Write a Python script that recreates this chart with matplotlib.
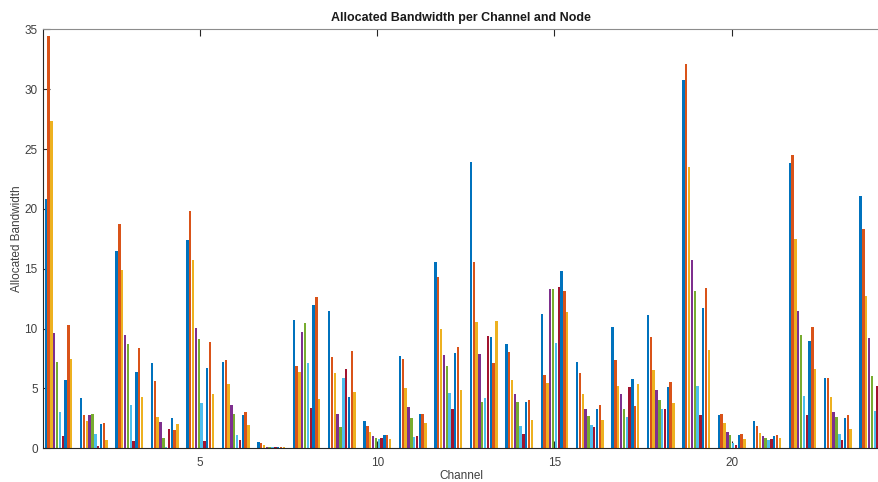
import matplotlib
matplotlib.use("Agg")
import matplotlib.pyplot as plt
import numpy as np

plt.rcParams['font.family'] = ['Liberation Sans', 'DejaVu Sans']

channels = list(range(1, 25))
# rows = channels 1..24, columns = node 1..10
ch01 = [20.8, 34.4, 27.3, 9.6, 7.2, 3.0, 1.0, 5.7, 10.3, 7.5]
ch02 = [4.2, 2.8, 2.25, 2.8, 2.85, 1.2, 0.2, 2.05, 2.15, 0.7]
ch03 = [16.5, 18.7, 14.9, 9.5, 8.7, 3.6, 0.65, 6.4, 8.4, 4.3]
ch04 = [7.1, 5.65, 2.65, 2.2, 0.85, 0.15, 1.65, 2.55, 1.55, 2.0]
ch05 = [17.4, 19.8, 15.75, 10.05, 9.15, 3.8, 0.65, 6.7, 8.85, 4.5]
ch06 = [7.2, 7.4, 5.35, 3.6, 2.9, 1.15, 0.7, 2.75, 3.05, 1.95]
ch07 = [0.5, 0.45, 0.3, 0.15, 0.1, 0.1, 0.1, 0.15, 0.15, 0.12]
ch08 = [10.7, 6.85, 6.4, 9.7, 10.5, 7.15, 3.4, 11.95, 12.65, 4.15]
ch09 = [11.45, 7.6, 6.25, 2.85, 1.8, 5.9, 6.65, 4.3, 8.1, 4.7]
ch10 = [2.3, 1.9, 1.4, 1.0, 0.9, 0.8, 0.85, 1.1, 1.1, 0.75]
ch11 = [7.7, 7.5, 5.0, 3.45, 2.55, 0.95, 1.05, 2.9, 2.85, 2.1]
ch12 = [15.55, 14.3, 9.95, 7.8, 6.9, 4.6, 3.3, 7.95, 8.5, 4.9]
ch13 = [23.9, 15.6, 10.55, 7.85, 3.9, 4.2, 9.35, 9.3, 7.15, 10.6]
ch14 = [8.75, 8.05, 5.7, 4.5, 3.9, 1.9, 1.2, 3.9, 4.05, 2.4]
ch15 = [11.25, 6.1, 5.45, 13.3, 13.3, 8.8, 13.5, 14.8, 13.15, 11.35]
ch16 = [7.2, 6.3, 4.55, 3.3, 2.7, 1.95, 1.8, 3.25, 3.6, 2.4]
ch17 = [10.15, 7.35, 5.2, 4.5, 3.25, 2.6, 5.1, 5.8, 3.5, 5.35]
ch18 = [11.1, 9.3, 6.5, 4.9, 4.0, 3.25, 3.25, 5.15, 5.55, 3.8]
ch19 = [30.8, 32.1, 23.5, 15.75, 13.1, 5.2, 2.75, 11.75, 13.4, 8.25]
ch20 = [2.75, 2.85, 2.1, 1.4, 1.15, 0.45, 0.25, 1.1, 1.2, 0.75]
ch21 = [2.25, 1.9, 1.3, 1.05, 0.85, 0.7, 0.8, 1.05, 1.15, 0.85]
ch22 = [23.8, 24.5, 17.5, 11.5, 9.5, 4.35, 2.8, 9.0, 10.1, 6.6]
ch23 = [5.9, 5.9, 4.3, 3.0, 2.6, 1.2, 0.7, 2.5, 2.75, 1.6]
ch24 = [21.1, 18.3, 12.7, 9.2, 6.0, 3.1, 5.2, 4.5, 6.0, 3.5]

data = np.array([ch01, ch02, ch03, ch04, ch05, ch06, ch07, ch08, ch09, ch10,
                 ch11, ch12, ch13, ch14, ch15, ch16, ch17, ch18, ch19, ch20,
                 ch21, ch22, ch23, ch24])

x_ticks = [5, 10, 15, 20]
y_ticks = [0, 5, 10, 15, 20, 25, 30, 35]

colors = ['#0072BD', '#D95319', '#EDB120', '#7E2F8E', '#77AC30',
          '#4DBEEE', '#A2142F']

fig = plt.figure(figsize=(8.79, 4.82), dpi=100)
ax = fig.add_axes([43.3 / 879, (482 - 448.3) / 482, 1 - 43.3 / 879, (448.3 - 29.3) / 482])

n_nodes = data.shape[1]
group_w = 0.8
step = group_w / n_nodes
x = np.array(channels, dtype=float)
for k in range(n_nodes):
    offs = -group_w / 2 + step * (k + 0.5)
    ax.bar(x + offs, data[:, k], width=step * 0.85, color=colors[k % 7],
           edgecolor='none', zorder=2)

ax.set_xlim(0.571, 24.16)
ax.set_ylim(0, 35)
ax.set_xticks(x_ticks)
ax.set_yticks(y_ticks)
ax.tick_params(direction='in', length=5, width=0.8, colors='#262626',
               labelsize=8.5, top=True, right=False)
ax.tick_params(axis='x', labelcolor='#404040', pad=6)
ax.tick_params(axis='y', labelcolor='#404040', pad=4)
for side in ['left', 'bottom', 'top']:
    ax.spines[side].set_color('#262626')
    ax.spines[side].set_linewidth(0.8)
ax.spines['top'].set_color('#8c8c8c')
ax.spines['right'].set_visible(False)

ax.set_title('Allocated Bandwidth per Channel and Node', fontsize=9,
             fontweight='bold', color='#1a1a1a', pad=6)
ax.set_xlabel('Channel', fontsize=8.5, color='#404040', labelpad=1)
ax.set_ylabel('Allocated Bandwidth', fontsize=8.5, color='#404040', labelpad=1)

fig.savefig('out.png', dpi=100)
